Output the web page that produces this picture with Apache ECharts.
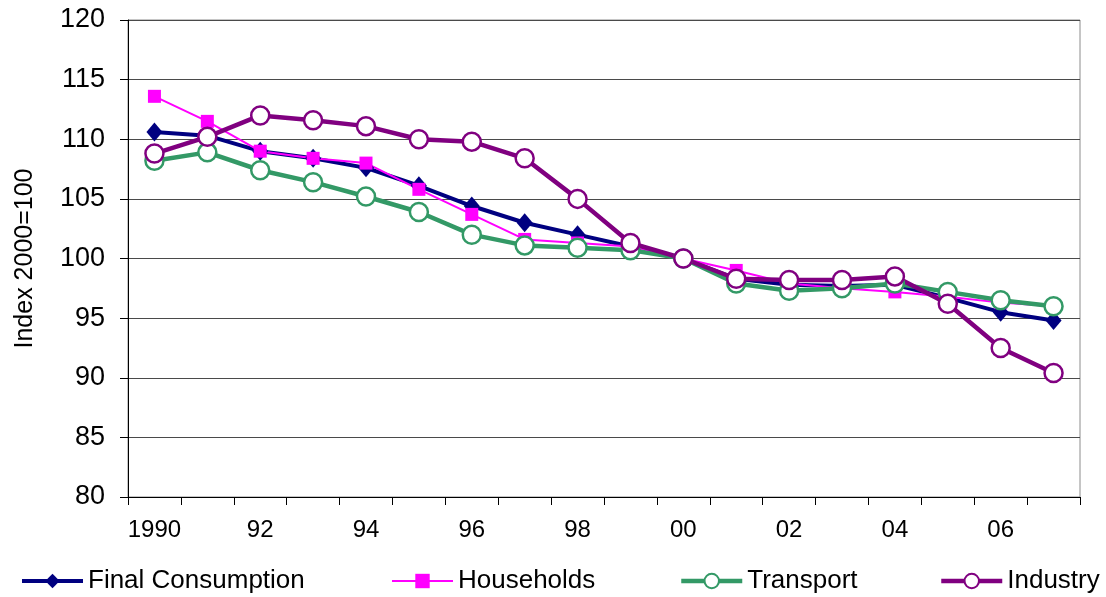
<!DOCTYPE html>
<html>
<head>
<meta charset="utf-8">
<title>Index 2000=100</title>
<script src="https://cdn.jsdelivr.net/npm/echarts@6/dist/echarts.min.js"></script>
<style>
    html, body {margin: 0; padding: 0; background: #fff;}
    #main {width: 1106px; height: 597px;}
</style>
</head>
<body>
<div id="main"></div>
<script type="text/javascript">
    // years on the x axis (every other one gets a label)
    var years = ['1990','91','92','93','94','95','96','97','98','99','00','01','02','03','04','05','06','07'];

    var finalConsumption = [110.6, 110.3, 109.0, 108.4, 107.6, 106.1, 104.4, 103.0, 102.0, 101.0, 100.0, 98.3, 97.8, 97.7, 97.8, 96.7, 95.5, 94.8];
    var households       = [113.6, 111.5, 109.0, 108.4, 108.0, 105.8, 103.7, 101.6, 101.3, 101.0, 100.0, 99.0, 97.9, 97.5, 97.2, 96.8, 96.3, 96.0];
    var transport        = [108.2, 108.9, 107.4, 106.4, 105.2, 103.9, 102.0, 101.1, 100.9, 100.7, 100.0, 97.9, 97.3, 97.5, 97.9, 97.2, 96.5, 96.0];
    var industry         = [108.8, 110.2, 112.0, 111.6, 111.1, 110.0, 109.8, 108.4, 105.0, 101.3, 100.0, 98.3, 98.2, 98.2, 98.5, 96.2, 92.5, 90.4];

    var font = 'Arial, "Liberation Sans", sans-serif';

    var chart = echarts.init(document.getElementById('main'));

    //图例 一个一个放
    function leg(name, x) {
        return {
            data: [name],
            left: x,
            top: 568,
            padding: 0,
            itemWidth: 61,
            itemHeight: 18,
            itemGap: 0,
            lineStyle: {width: 'inherit'},
            textStyle: {fontFamily: font, fontSize: 26, color: '#000'}
        };
    }

    var option = {
        animation: false,
        backgroundColor: '#fff',
        grid: {
            left: 128,
            right: 26,
            top: 20,
            bottom: 100,
            show: true,
            borderColor: '#8c8c8c',
            borderWidth: 1
        },
        legend: [
            leg('Final Consumption', 20),
            leg('Households', 391),
            leg('Transport', 679),
            leg('Industry', 939)
        ],
        xAxis: {
            type: 'category',
            boundaryGap: true,
            data: years,
            axisLine: {lineStyle: {color: '#000', width: 1}},
            axisTick: {show: true, interval: 0, length: 8, lineStyle: {color: '#000'}},
            axisLabel: {interval: 1, margin: 21, fontFamily: font, fontSize: 24, color: '#000'}
        },
        yAxis: {
            type: 'value',
            min: 80,
            max: 120,
            interval: 5,
            name: 'Index 2000=100',
            nameLocation: 'middle',
            nameGap: 90,
            nameTextStyle: {fontFamily: font, fontSize: 25, color: '#000'},
            axisLine: {show: true, lineStyle: {color: '#000', width: 1}},
            axisTick: {show: true, length: 8, lineStyle: {color: '#000'}},
            axisLabel: {margin: 23, fontFamily: font, fontSize: 27, color: '#000'},
            splitLine: {lineStyle: {color: '#4a4a4a', width: 1}}
        },
        series: [
            {
                name: 'Final Consumption',
                type: 'line',
                data: finalConsumption,
                color: '#000080',
                symbol: 'diamond',
                symbolSize: [16, 19],
                lineStyle: {width: 4, color: '#000080'},
                itemStyle: {color: '#000080', borderWidth: 0}
            },
            {
                name: 'Households',
                type: 'line',
                data: households,
                color: '#ff00ff',
                symbol: 'rect',
                symbolSize: 13,
                lineStyle: {width: 2, color: '#ff00ff'},
                itemStyle: {color: '#ff00ff', borderWidth: 0}
            },
            {
                name: 'Transport',
                type: 'line',
                data: transport,
                color: '#339966',
                symbol: 'circle',
                symbolSize: 18,
                lineStyle: {width: 4.5, color: '#339966'},
                itemStyle: {color: '#fff', borderColor: '#339966', borderWidth: 2.5}
            },
            {
                name: 'Industry',
                type: 'line',
                data: industry,
                color: '#800080',
                symbol: 'circle',
                symbolSize: 18,
                lineStyle: {width: 4.5, color: '#800080'},
                itemStyle: {color: '#fff', borderColor: '#800080', borderWidth: 2.5}
            }
        ]
    };
    chart.setOption(option);

    window.addEventListener('resize', function () {
        chart.resize();
    });
</script>
</body>
</html>
